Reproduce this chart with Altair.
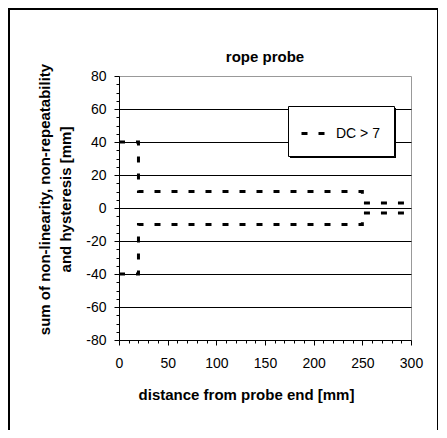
import altair as alt
import pandas as pd

# ---- data ----
chart_title = "rope probe"
series_name = "DC > 7"
distance_mm = [0, 20, 20, 250, 250, 300]
upper_mm = [40, 40, 10, 10, 3, 3]
lower_mm = [-40, -40, -10, -10, -3, -3]

y_ticks = list(range(-80, 81, 5))
x_ticks = list(range(0, 301, 10))

rows = []
for part, ys in (("upper", upper_mm), ("lower", lower_mm)):
    for i, (x, y) in enumerate(zip(distance_mm, ys)):
        rows.append({"x": x, "y": y, "part": part, "i": i, "series": series_name})
df = pd.DataFrame(rows)

FONT = "Liberation Sans"

x_axis = alt.Axis(
    values=x_ticks,
    title="distance from probe end [mm]",
    labelExpr="datum.value % 50 === 0 ? datum.value + '' : ''",
    tickSize={"condition": {"test": "datum.value % 50 === 0", "value": 5}, "value": 3},
    grid=False,
    domainColor="black", tickColor="black",
    labelFont=FONT, labelFontSize=14, labelColor="black", labelPadding=11, labelFlush=False,
    titleFont=FONT, titleFontSize=15, titleFontWeight="bold", titleColor="black",
    titleX=127, titlePadding=17,
)
y_axis = alt.Axis(
    values=y_ticks,
    title=["sum of non-linearity, non-repeatability", "and hysteresis [mm]"],
    labelExpr="datum.value % 20 === 0 ? datum.value + '' : ''",
    tickSize={"condition": {"test": "datum.value % 20 === 0", "value": 5}, "value": 3},
    grid=True, gridColor="black", gridWidth=1,
    gridOpacity={"condition": {"test": "datum.value % 20 === 0 && abs(datum.value) < 80", "value": 1}, "value": 0},
    domainColor="black", tickColor="black",
    labelFont=FONT, labelFontSize=14, labelColor="black", labelPadding=8,
    titleFont=FONT, titleFontSize=15, titleFontWeight="bold", titleColor="black",
    titleLineHeight=21, titlePadding=12, titleY=123,
)

lines = alt.Chart(df).mark_line(strokeDash=[6, 11], strokeWidth=3, strokeCap="butt").encode(
    x=alt.X("x:Q", scale=alt.Scale(domain=[0, 300], nice=False), axis=x_axis),
    y=alt.Y("y:Q", scale=alt.Scale(domain=[-80, 80], nice=False), axis=y_axis),
    color=alt.Color(
        "series:N",
        scale=alt.Scale(range=["black"]),
        legend=alt.Legend(
            title=None, orient="none", legendX=181, legendY=44.5,
            symbolType="stroke", symbolDash=[6, 11], symbolStrokeWidth=3, symbolSize=529,
            padding=0,
            labelFont=FONT, labelFontSize=14, labelColor="black", labelOffset=10,
        ),
    ),
    detail="part:N",
    order="i:Q",
)

one = alt.Data(values=[{"k": 1}])
title_mark = alt.Chart(one).mark_text(
    text=chart_title, font=FONT, fontSize=15, fontWeight="bold", color="black",
    align="center", baseline="alphabetic",
).encode(x=alt.value(146), y=alt.value(-14.5))
shadow = alt.Chart(one).mark_rect(color="black").encode(
    x=alt.value(171), x2=alt.value(277), y=alt.value(32), y2=alt.value(82)
)
legend_box = alt.Chart(one).mark_rect(fill="white", stroke="black", strokeWidth=1).encode(
    x=alt.value(169.5), x2=alt.value(275.5), y=alt.value(30.5), y2=alt.value(80.5)
)
frame_left = alt.Chart(one).mark_rule(color="black", strokeWidth=2).encode(
    x=alt.value(-110), y=alt.value(-67), y2=alt.value(360)
)
frame_top = alt.Chart(one).mark_rule(color="black", strokeWidth=2).encode(
    x=alt.value(-111), x2=alt.value(320), y=alt.value(-67)
)
frame_right = alt.Chart(one).mark_rule(color="black", strokeWidth=2).encode(
    x=alt.value(319), y=alt.value(-67), y2=alt.value(360)
)

chart = alt.layer(
    lines, shadow, legend_box, title_mark, frame_left, frame_top, frame_right
).properties(
    width=292,
    height=264,
    padding={"left": 111, "top": 68, "right": 27, "bottom": 90},
    autosize=alt.AutoSizeParams(type="none"),
    background="white",
).configure_view(stroke="#999999", strokeWidth=1)

chart.save("out.html", embed_options={"renderer": "svg", "actions": False})
